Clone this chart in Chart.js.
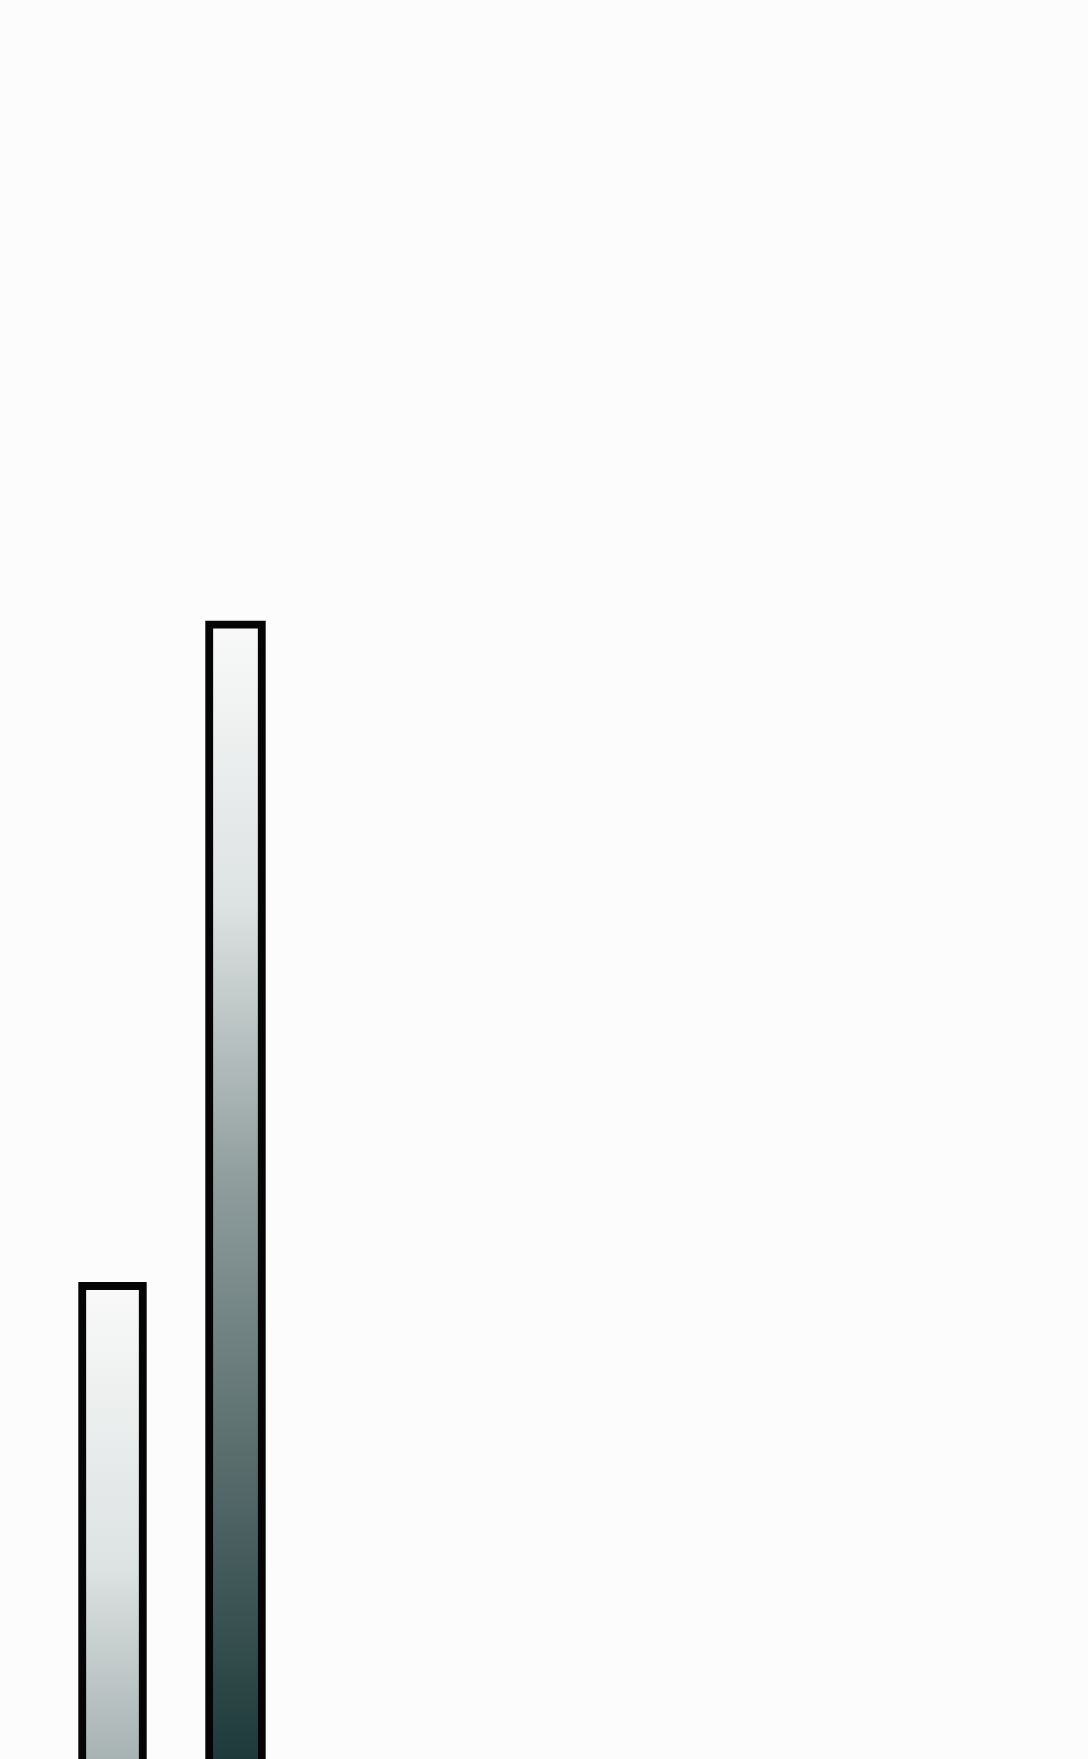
<!DOCTYPE html>
<html>
<head>
<meta charset="utf-8">
<script src="https://cdn.jsdelivr.net/npm/chart.js@4/dist/chart.umd.min.js"></script>
<style>
    html, body { margin: 0; padding: 0; background: #fcfcfc; overflow: hidden; }
    #wrap { width: 1088px; height: 1759px; }
</style>
</head>
<body>
<div id="wrap"><canvas id="barChart"></canvas></div>
<script>
// Two tall gradient bars, cut off at the bottom edge of the picture
const CATEGORIES = ['A', 'B'];
const VALUES = [27.1, 64.7];
const Y_TICKS = { min: 0, max: 100 };

// light grey at each bar's top fading to dark teal further down
const GRAD_TOP = '#f9f9f9';
const GRAD_BOTTOM = '#1e3a3a';
const BAR_WIDTHS = [68, 60];

function barGradient(c) {
    const chart = c.chart;
    const { chartArea, scales } = chart;
    if (!chartArea || c.raw == null) return GRAD_TOP;
    const top = scales.y.getPixelForValue(c.raw);
    // same fade length for every bar: measured from the tallest one
    const len = chartArea.bottom - scales.y.getPixelForValue(Math.max(...VALUES));
    const g = chart.ctx.createLinearGradient(0, top, 0, top + len);
    g.addColorStop(0, GRAD_TOP);
    g.addColorStop(0.25, '#dde2e2');
    g.addColorStop(0.5, '#8d9b9b');
    g.addColorStop(0.75, '#566a6a');
    g.addColorStop(1, GRAD_BOTTOM);
    return g;
}

new Chart(document.getElementById('barChart'), {
    type: 'bar',
    data: {
        labels: CATEGORIES,
        datasets: VALUES.map((v, i) => ({
            data: CATEGORIES.map((_, j) => j === i ? v : null),
            backgroundColor: barGradient,
            borderColor: '#050505',
            borderWidth: 8,
            borderSkipped: 'start',
            barThickness: BAR_WIDTHS[i],
            grouped: false
        }))
    },
    options: {
        responsive: true,
        maintainAspectRatio: false,
        animation: false,
        layout: { padding: { left: 51, right: 791, top: 0, bottom: 0 } },
        plugins: { legend: { display: false }, tooltip: { enabled: false } },
        scales: {
            x: { display: false },
            y: { display: false, min: Y_TICKS.min, max: Y_TICKS.max }
        }
    }
});
</script>
</body>
</html>
